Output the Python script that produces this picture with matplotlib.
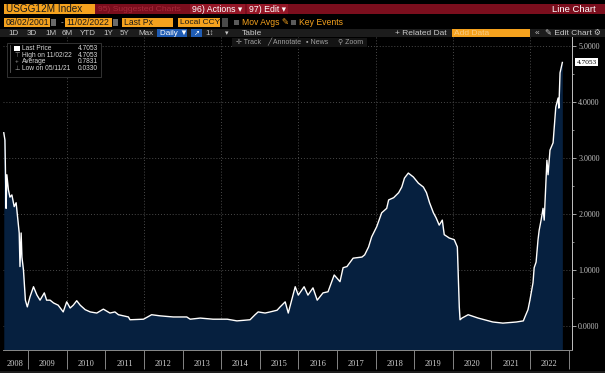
import matplotlib
matplotlib.use("Agg")
import matplotlib.pyplot as plt
from matplotlib.patches import Rectangle

plt.rcParams['font.family'] = ['Liberation Sans', 'DejaVu Sans']

W, H = 605, 373

# USGG12M yield (decimal year, percent)
years = [2008.37, 2008.40, 2008.43, 2008.45, 2008.49, 2008.53, 2008.58, 2008.64, 2008.69, 2008.72,
         2008.77, 2008.79, 2008.82, 2008.84, 2008.88, 2008.93, 2008.98, 2009.05, 2009.14, 2009.23,
         2009.31, 2009.42, 2009.48, 2009.57, 2009.66, 2009.78, 2009.91, 2010.00, 2010.09, 2010.17,
         2010.26, 2010.35, 2010.48, 2010.61, 2010.78, 2010.95, 2011.12, 2011.25, 2011.34, 2011.60,
         2011.64, 2011.99, 2012.20, 2012.42, 2012.76, 2012.94, 2013.11, 2013.20, 2013.46, 2013.79,
         2014.16, 2014.41, 2014.75, 2014.88, 2014.96, 2015.14, 2015.27, 2015.45, 2015.53, 2015.66,
         2015.74, 2015.92, 2016.00, 2016.15, 2016.25, 2016.38, 2016.49, 2016.64, 2016.77, 2016.93,
         2017.08, 2017.16, 2017.26, 2017.42, 2017.65, 2017.72, 2017.82, 2017.90, 2018.03, 2018.16,
         2018.29, 2018.34, 2018.47, 2018.60, 2018.68, 2018.75, 2018.85, 2018.98, 2019.11, 2019.24,
         2019.32, 2019.40, 2019.50, 2019.57, 2019.65, 2019.73, 2019.78, 2019.91, 2020.04, 2020.12,
         2020.17, 2020.19, 2020.24, 2020.40, 2020.66, 2021.04, 2021.30, 2021.48, 2021.65, 2021.83,
         2021.87, 2021.95, 2022.00, 2022.08, 2022.11, 2022.16, 2022.21, 2022.24, 2022.29, 2022.34,
         2022.37, 2022.42, 2022.44, 2022.47, 2022.52, 2022.60, 2022.62, 2022.67, 2022.73, 2022.75,
         2022.78, 2022.84]
yields = [3.45, 3.32, 2.10, 2.70, 2.43, 2.30, 2.34, 2.13, 2.20, 2.00,
          1.66, 1.06, 1.66, 1.23, 1.00, 0.46, 0.34, 0.52, 0.70, 0.55,
          0.46, 0.59, 0.46, 0.46, 0.41, 0.37, 0.25, 0.43, 0.32, 0.37,
          0.45, 0.37, 0.29, 0.25, 0.23, 0.30, 0.23, 0.25, 0.20, 0.16,
          0.11, 0.12, 0.20, 0.18, 0.16, 0.16, 0.16, 0.12, 0.14, 0.12,
          0.12, 0.09, 0.11, 0.20, 0.25, 0.23, 0.25, 0.28, 0.34, 0.43,
          0.23, 0.70, 0.55, 0.70, 0.55, 0.68, 0.46, 0.59, 0.61, 0.91,
          0.79, 1.04, 1.06, 1.21, 1.23, 1.27, 1.41, 1.59, 1.77, 2.02,
          2.10, 2.25, 2.29, 2.38, 2.48, 2.64, 2.73, 2.66, 2.55, 2.48,
          2.38, 2.20, 2.02, 1.93, 1.80, 1.89, 1.63, 1.57, 1.54, 1.41,
          0.34, 0.11, 0.14, 0.20, 0.14, 0.07, 0.05, 0.06, 0.07, 0.09,
          0.16, 0.29, 0.46, 0.77, 1.04, 1.14, 1.54, 1.71, 1.89, 2.10,
          1.89, 2.66, 2.96, 2.70, 3.14, 3.27, 3.46, 3.91, 4.07, 3.89,
          4.52, 4.7053]

year_labels = list(range(2008, 2023))
y_ticks = [0, 1, 2, 3, 4, 5]
legend_rows = [("Last Price", "4.7053"), ("High on 11/02/22", "4.7053"),
               ("Average", "0.7831"), ("Low on 05/11/21", "0.0330")]
last_px = 4.7053

fig = plt.figure(figsize=(W / 100, H / 100), dpi=100, facecolor="black")


def fx(px):
    return px / W


def fy(py):
    return 1 - py / H


def box(x0, y0, x1, y1, color, ec="none", z=1):
    fig.add_artist(Rectangle((fx(x0), fy(y1)), fx(x1) - fx(x0), fy(y0) - fy(y1),
                             transform=fig.transFigure, facecolor=color,
                             edgecolor=ec, lw=0.6, zorder=z))


def txt(x, y, s, color="#c8c8c8", size=5.5, ha="left", z=3, **kw):
    fig.text(fx(x), fy(y), s, color=color, fontsize=size, ha=ha, va="center", zorder=z, **kw)


# main chart
ax = fig.add_axes([fx(3), fy(350), fx(572) - fx(3), fy(37) - fy(350)])
ax.set_facecolor("black")
ymin, ymax = -0.43, 5.16
ax.set_ylim(ymin, ymax)
ax.set_xlim(2008.35, 2023.09)

ax.fill_between(years, yields, ymin, color="#06203f", lw=0, zorder=2)
ax.plot(years, yields, color="white", lw=1.0, zorder=3)

# grid
ax.grid(axis="y", ls=(0, (1, 2)), color="#4a4a4a", lw=0.7)
for yr in range(2010, 2023, 2):
    ax.axvline(yr, ls=(0, (1, 2)), color="#4a4a4a", lw=0.7, zorder=1)
ax.set_axisbelow(True)

# y axis on right
ax.yaxis.tick_right()
ax.set_yticks(y_ticks)
ax.set_yticklabels([f"{v:.4f}" for v in y_ticks], family="Liberation Serif")
ax.set_yticks([v + 0.5 for v in y_ticks[:-1]], minor=True)
ax.tick_params(axis="y", which="major", colors="#c0c0c0", labelsize=5.8, length=3,
               width=0.6, pad=1.5, direction="out")
ax.tick_params(axis="y", which="minor", colors="#c0c0c0", length=1.5, width=0.5)

# x axis: separators at year boundaries, labels centred in each year
ax.set_xticks(range(2009, 2024))
ax.set_xticklabels([])
lab_pos = [(2008.35 + 2009) / 2] + [y + 0.5 for y in year_labels[1:]]
ax.set_xticks(lab_pos, minor=True)
ax.set_xticklabels([str(y) for y in year_labels], minor=True, family="Liberation Serif")
ax.tick_params(axis="x", which="major", colors="#9a9a9a", length=14, width=0.6, direction="out")
ax.tick_params(axis="x", which="minor", colors="#d0d0d0", length=0, labelsize=6, pad=7.5)

for s in ["left", "top"]:
    ax.spines[s].set_visible(False)
ax.spines["right"].set_color("#c0c0c0")
ax.spines["right"].set_linewidth(0.7)
ax.spines["bottom"].set_color("#8a8a8a")
ax.spines["bottom"].set_linewidth(0.7)

# last price tag
ax.annotate(f"{last_px:.4f}", xy=(1, last_px), xycoords=("axes fraction", "data"),
            xytext=(3.5, 0), textcoords="offset points", ha="left", va="center",
            fontsize=5.3, color="black", family="Liberation Serif",
            bbox=dict(boxstyle="square,pad=0.2", fc="white", ec="none"), annotation_clip=False)

# legend box
box(7, 43, 101, 77, "black", ec="#3a3a3a", z=4)
box(14, 46, 20, 51, "white", z=5)
fig.add_artist(plt.Line2D([fx(10), fx(10)], [fy(45), fy(72)], transform=fig.transFigure,
                          color="#5a5a5a", lw=0.6, zorder=5))
symbols = ["", "\u22a4", "+", "\u22a5"]
for i, (lab, val) in enumerate(legend_rows):
    yy = 48.5 + i * 6.7
    if symbols[i]:
        txt(17, yy, symbols[i], color="#9a9a9a", size=4.5, ha="center", z=6)
    txt(22, yy, lab, color="#d8d8d8", size=4.8, z=6)
    txt(98, yy, val, color="#d8d8d8", size=4.8, ha="right", z=6)

# header row 1
orange = "#f5a21e"
box(4, 4, 95, 14, orange)
txt(6, 9.3, "USGG12M Index", color="#1a1a1a", size=7.2)
box(95, 4, 605, 14, "#7b0e1d")
txt(98, 9.3, "95) Suggested Charts", color="#a8283a", size=6.1)
box(190, 4, 245, 14, "#941626")
txt(192, 9.3, "96) Actions \u25be", color="white", size=6.3)
box(247, 4, 288, 14, "#941626")
txt(249, 9.3, "97) Edit \u25be", color="white", size=6.3)
txt(596, 9.3, "Line Chart", color="white", size=6.8, ha="right")

# header row 2
box(4, 18, 50, 27, orange)
txt(5.5, 22.6, "08/02/2001", color="#1a1a1a", size=6.2)
box(51, 19, 56, 26, "#6a6a6a")
txt(61, 22.6, "-", color="#d0d0d0", size=6)
box(65, 18, 112, 27, orange)
txt(66.5, 22.6, "11/02/2022", color="#1a1a1a", size=6.2)
box(113, 19, 118, 26, "#6a6a6a")
box(122, 18, 173, 27, orange)
txt(124, 22.6, "Last Px", color="#1a1a1a", size=6.2)
box(178, 18, 220, 27, orange)
txt(180, 22.6, "Local CCY", color="#1a1a1a", size=6.0)
box(222, 18, 228, 27, "#4a4a4a")
box(234, 20, 239, 25, "#5a5a5a")
txt(242, 22.6, "Mov Avgs \u270e", color=orange, size=6.2)
box(291, 20, 296, 25, "#5a5a5a")
txt(299, 22.6, "Key Events", color=orange, size=6.2)

# header row 3
box(0, 29, 605, 37, "#1c1c1c")
for lab, x in [("1D", 8), ("3D", 27), ("1M", 45), ("6M", 62), ("YTD", 80),
               ("1Y", 103), ("5Y", 120), ("Max", 138)]:
    txt(x, 33.2, lab, size=5.8)
box(157, 29, 187, 37, "#1f5cb4")
txt(160, 33.2, "Daily \u25bc", color="white", size=5.8)
box(191, 29, 202, 37, "#1f5cb4")
txt(196.5, 33.2, "\u2197", color="white", size=5, ha="center")
txt(205, 33.2, "1\u2195", size=5.8)
txt(227, 33.2, "\u25be", size=5, ha="center")
txt(242, 33.2, "Table", size=6)
txt(447, 33.2, "+ Related Dat", size=6, ha="right")
box(452, 29, 530, 37, orange)
txt(454, 33.2, "Add Data", color="#f8cc86", size=6)
txt(537, 33.2, "\u00ab", size=6, ha="center")
txt(545, 33.2, "\u270e Edit Chart", size=6)
txt(597, 33.2, "\u2699", size=5.5, ha="center")

# header row 4
box(232, 38, 367, 47, "#141414", z=2)
txt(236, 42.5, "\u271b Track", color="#a0a0a0", size=5, z=4)
txt(267, 42.5, "\u2571 Annotate", color="#a0a0a0", size=5, z=4)
txt(306, 42.5, "\u25aa News", color="#a0a0a0", size=5, z=4)
txt(338, 42.5, "\u26b2 Zoom", color="#a0a0a0", size=5, z=4)

# bottom band
box(0, 371, 605, 373, "#1c1c1c")

fig.savefig("out.png", dpi=100, facecolor="black")
